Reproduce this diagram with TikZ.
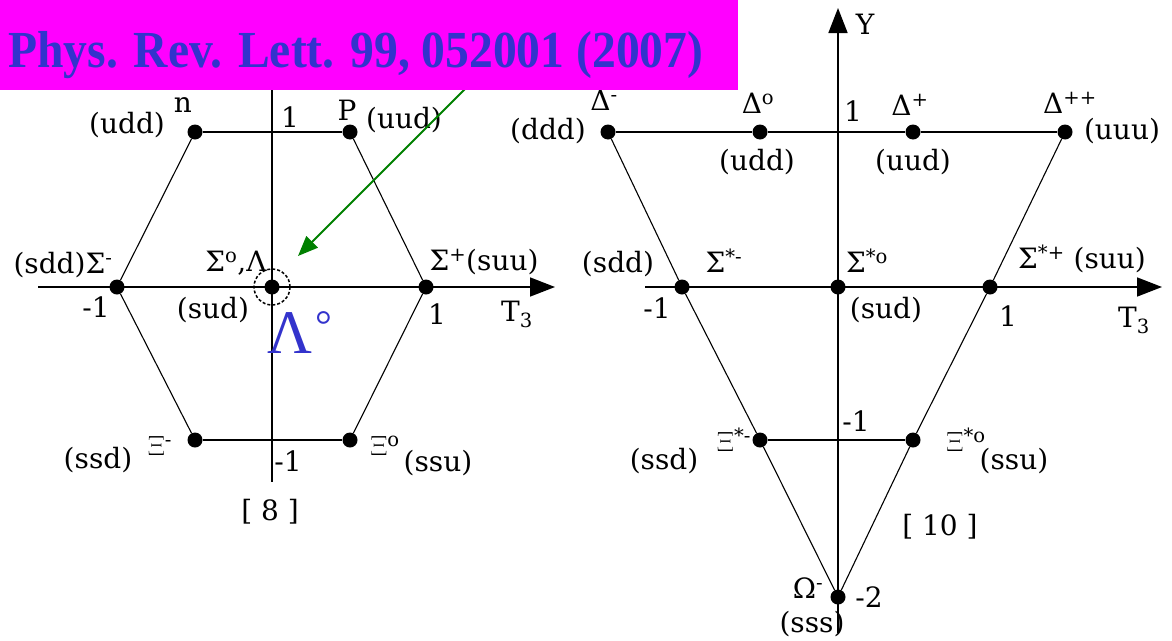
\documentclass[tikz,border=0pt]{standalone}
\usepackage{fontspec}
\usepackage{graphicx}
\setmainfont{DejaVu Serif}
\newfontfamily\bannerfont{Liberation Serif}
\usetikzlibrary{arrows.meta}
\definecolor{bannerpink}{RGB}{255,0,255}
\definecolor{bannerblue}{RGB}{51,51,204}
\definecolor{arrowgreen}{RGB}{0,128,0}
\newcommand{\Xig}{\resizebox{!}{19pt}{\fontencoding{OT1}\fontfamily{lmr}\fontseries{b}\selectfont\char"04}}
\tikzset{
  particle/.style = {circle, fill=black, inner sep=0pt, minimum size=15pt},
  quark/.style    = {inner sep=0pt, font=\fontsize{28}{28}\selectfont},
  axis/.style     = {line width=1.6pt},
  axis-arrow/.style = {axis, -{Triangle[length=25pt,width=19pt]}},
  row/.style      = {line width=1.6pt},
  side/.style     = {line width=1.1pt}
}
\begin{document}
\begin{tikzpicture}[x=1pt, y=-1pt]
    \useasboundingbox (0,0) rectangle (1172,640);

    % octet [8]
    \draw[axis-arrow] (38,287) -- (555,287);
    \draw[axis] (272,90) -- (272,482);
    \node[particle] (n)    at (195,132) {};
    \node[particle] (p)    at (350,132) {};
    \node[particle] (sigm) at (117,287) {};
    \node[particle] (sigz) at (272,287) {};
    \node[particle] (sigp) at (426,287) {};
    \node[particle] (xim)  at (195,440) {};
    \node[particle] (xiz)  at (350,440) {};
    \draw[row] (n) -- (p);
    \draw[row] (xim) -- (xiz);
    \draw[side] (n) -- (sigm) -- (xim);
    \draw[side] (p) -- (sigp) -- (xiz);
    \draw[dash pattern=on 3pt off 2pt, line width=1.5pt] (sigz) circle (18pt);

    \node[quark] (udd)    at (127,125) {(udd)};
    \node[quark] (nlab)   at (183,105) {n};
    \node[quark] (one)    at (290,117) {1};
    \node[quark] (plab)   at (347,110) {P};
    \node[quark] (uud)    at (404,120) {(uud)};
    \node[quark] (sdd)    at (63,265)  {(sdd)Σ\textsuperscript{-}};
    \node[quark] (sigzl)  at (236,263) {Σ\textsuperscript{o},Λ};
    \node[quark] (mone)   at (96,307)  {-1};
    \node[quark] (sud)    at (213,310) {(sud)};
    \node[quark] (suu)    at (484,262) {Σ\textsuperscript{+}(suu)};
    \node[quark] (onex)   at (437,314) {1};
    \node[quark] (tthree) at (517,314) {T\textsubscript{3}};
    \node[quark] (ssd)    at (98,460)  {(ssd)};
    \node[quark] (ximl)   at (160,446) {\Xig\textsuperscript{-}};
    \node[quark] (xizl)   at (385,446) {\Xig\textsuperscript{o}};
    \node[quark] (ssu)    at (438,463) {(ssu)};
    \node[quark] (monev)  at (288,461) {-1};
    \node[quark] (eight)  at (270,512) {[ 8 ]};
    \node[inner sep=0pt, anchor=base west, text=bannerblue] (lam) at (267,353)
        {\bannerfont\fontsize{62}{62}\selectfont Λ\hspace{3pt}\raisebox{14pt}{\fontsize{42}{42}\selectfont °}};

    % decuplet [10]
    \draw[axis-arrow] (645,287) -- (1162,287);
    \draw[axis-arrow] (838,633) -- (838,8);
    \node[particle] (dm)  at (608,132) {};
    \node[particle] (dz)  at (760,132) {};
    \node[particle] (dp)  at (913,132) {};
    \node[particle] (dpp) at (1065,132) {};
    \node[particle] (ssm) at (682,287) {};
    \node[particle] (ssz) at (838,287) {};
    \node[particle] (ssp) at (990,287) {};
    \node[particle] (xsm) at (760,440) {};
    \node[particle] (xsz) at (913,440) {};
    \node[particle] (om)  at (838,597) {};
    \draw[row] (dm) -- (dz) -- (dp) -- (dpp);
    \draw[row] (xsm) -- (xsz);
    \draw[side] (dm) -- (ssm) -- (xsm) -- (om);
    \draw[side] (dpp) -- (ssp) -- (xsz) -- (om);

    \node[quark] (ylab)  at (865,24)  {Y};
    \node[quark] (ddd)   at (548,131) {(ddd)};
    \node[quark] (dml)   at (604,100) {Δ\textsuperscript{-}};
    \node[quark] (dzl)   at (758,103) {Δ\textsuperscript{o}};
    \node[quark] (udd2)  at (757,162) {(udd)};
    \node[quark] (one2)  at (853,111) {1};
    \node[quark] (dpl)   at (910,105) {Δ\textsuperscript{+}};
    \node[quark] (uud2)  at (913,162) {(uud)};
    \node[quark] (dppl)  at (1070,103) {Δ\textsuperscript{++}};
    \node[quark] (uuu)   at (1122,131) {(uuu)};
    \node[quark] (sdd2)  at (618,264) {(sdd)};
    \node[quark] (ssml)  at (724,261) {Σ\textsuperscript{*-}};
    \node[quark] (mone2) at (657,308) {-1};
    \node[quark] (sszl)  at (867,261) {Σ\textsuperscript{*o}};
    \node[quark] (sud2)  at (886,310) {(sud)};
    \node[quark] (suu2)  at (1082,259) {Σ\textsuperscript{*+} (suu)};
    \node[quark] (onex2) at (1008,316) {1};
    \node[quark] (tthree2) at (1134,320) {T\textsubscript{3}};
    \node[quark] (monev2) at (856,421) {-1};
    \node[quark] (ssd2)  at (664,461) {(ssd)};
    \node[quark] (xsml)  at (734,440) {\Xig\textsuperscript{*-}};
    \node[quark] (xszl)  at (966,440) {\Xig\textsuperscript{*o}};
    \node[quark] (ssu2)  at (1014,461) {(ssu)};
    \node[quark] (ten)   at (940,527) {[ 10 ]};
    \node[quark] (oml)   at (808,588) {Ω\textsuperscript{-}};
    \node[quark] (mtwo)  at (869,597) {-2};
    \node[quark] (sss)   at (812,624) {(sss)};

    % reference banner and pointer
    \coordinate (gstart) at (470,84);
    \coordinate (gend)   at (298,256);
    \draw[arrowgreen, line width=2pt, -{Triangle[length=20pt,width=16pt]}] (gstart) -- (gend);
    \fill[bannerpink] (0,0) rectangle (738,90);
    \node[inner sep=0pt, anchor=base west, text=bannerblue] (ref) at (8,67)
        {\scalebox{0.915}[1]{\bannerfont\bfseries\fontsize{52}{52}\selectfont Phys. Rev. Lett. 99, 052001 (2007)}};
\end{tikzpicture}
\end{document}
